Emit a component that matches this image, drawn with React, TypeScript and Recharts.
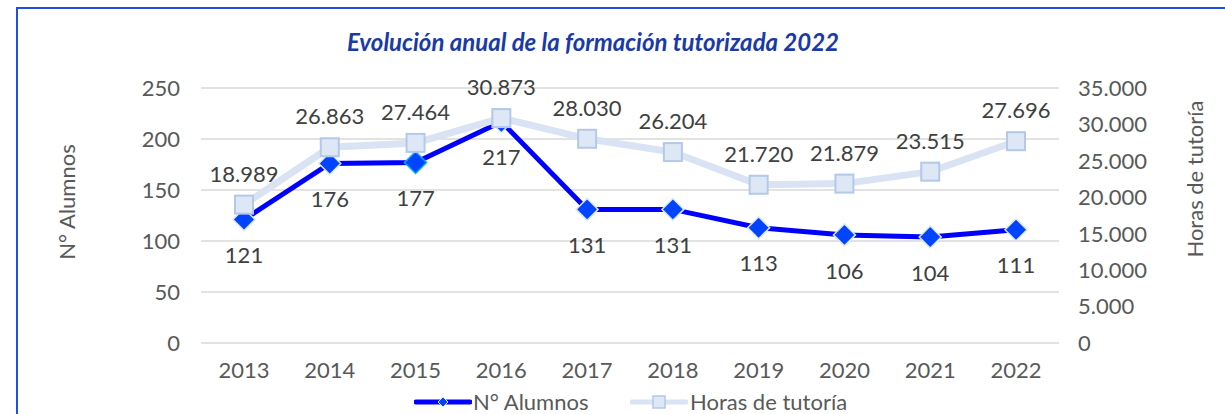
import { LineChart, Line, XAxis, YAxis, CartesianGrid, LabelList } from "recharts";

const years = ["2013", "2014", "2015", "2016", "2017", "2018", "2019", "2020", "2021", "2022"];
const alumnos = [121, 176, 177, 217, 131, 131, 113, 106, 104, 111];
const horas = [18989, 26863, 27464, 30873, 28030, 26204, 21720, 21879, 23515, 27696];
const leftTicks = [0, 50, 100, 150, 200, 250];
const rightTicks = [0, 5000, 10000, 15000, 20000, 25000, 30000, 35000];

const data = years.map((year, i) => ({ year, alumnos: alumnos[i], horas: horas[i] }));

const FONT = "Lato, 'Open Sans', sans-serif";
const FS = 22;
const TICK = "#595959";
const LABEL = "#404040";
const BLUE = "#0000ff";
const DIAMOND = "#0044ff";
const LIGHT = "#dae3f3";
const SQUARE_FILL = "#dde7f5";
const SQUARE_STROKE = "#b4c8e8";

const fmt = (n: number) => String(n).replace(/\B(?=(\d{3})+(?!\d))/g, ".");

function Diamond(props: any) {
    const { cx, cy, index } = props;
    if (cx == null || cy == null) return null;
    const r = 11;
    return (
        <path
            key={`d-${index}`}
            d={`M${cx},${cy - r}L${cx + r},${cy}L${cx},${cy + r}L${cx - r},${cy}Z`}
            fill={DIAMOND}
            stroke={index === 2 ? "#00b0f0" : "#dbe6f7"}
            strokeWidth={1.5}
        />
    );
}

function Square(props: any) {
    const { cx, cy, index } = props;
    if (cx == null || cy == null) return null;
    const s = 9;
    return (
        <rect
            key={`s-${index}`}
            x={cx - s}
            y={cy - s}
            width={s * 2}
            height={s * 2}
            fill={SQUARE_FILL}
            stroke={SQUARE_STROKE}
            strokeWidth={2}
        />
    );
}

function AxisTitle({ x, y, text }: { x: number; y: number; text: string }) {
    return (
        <text
            x={x}
            y={y}
            transform={`rotate(-90, ${x}, ${y})`}
            textAnchor="middle"
            dominantBaseline="central"
            fill={TICK}
            fontSize={FS}
            fontFamily={FONT}
        >
            {text}
        </text>
    );
}

export default function App() {
    return (
        <div style={{ position: "absolute", left: 0, top: 0, width: 1225, height: 414, overflow: "hidden", background: "#fff" }}>
            <div
                style={{
                    position: "absolute",
                    left: 16,
                    top: 7,
                    width: 1230,
                    height: 430,
                    border: "2px solid #1f4fe6",
                    boxSizing: "border-box",
                }}
            />
            <div
                style={{
                    position: "absolute",
                    left: 0,
                    width: 1186,
                    top: 27,
                    textAlign: "center",
                    fontFamily: FONT,
                    fontWeight: 700,
                    fontStyle: "italic",
                    fontSize: 24,
                    color: "#1a3aa6",
                }}
            >
                Evolución anual de la formación tutorizada 2022
            </div>
            <div style={{ position: "absolute", left: 0, top: 0 }}>
                <LineChart
                    width={1225}
                    height={414}
                    data={data}
                    margin={{ top: 88, right: 26, bottom: 31, left: 61 }}
                >
                    <CartesianGrid yAxisId="left" vertical={false} stroke="#d9d9d9" strokeWidth={1.5} />
                    <XAxis
                        dataKey="year"
                        axisLine={false}
                        tickLine={false}
                        tickSize={0}
                        tickMargin={19}
                        height={40}
                        padding={{ left: 43, right: 43 }}
                        tick={{ fill: TICK, fontSize: FS, fontFamily: FONT }}
                    />
                    <YAxis
                        yAxisId="left"
                        domain={[0, 250]}
                        ticks={leftTicks}
                        width={140}
                        axisLine={false}
                        tickLine={false}
                        tickSize={0}
                        tickMargin={21}
                        tick={{ fill: TICK, fontSize: FS, fontFamily: FONT }}
                        label={{
                            content: () => <AxisTitle x={66} y={202} text="N° Alumnos" />,
                        }}
                    />
                    <YAxis
                        yAxisId="right"
                        orientation="right"
                        domain={[0, 35000]}
                        ticks={rightTicks}
                        width={140}
                        axisLine={false}
                        tickLine={false}
                        tickSize={0}
                        tickMargin={19}
                        tickFormatter={fmt}
                        tick={{ fill: TICK, fontSize: FS, fontFamily: FONT }}
                        label={{
                            content: () => <AxisTitle x={1194} y={179} text="Horas de tutoría" />,
                        }}
                    />
                    <Line
                        yAxisId="left"
                        type="linear"
                        dataKey="alumnos"
                        stroke={BLUE}
                        strokeWidth={5}
                        dot={Diamond}
                        activeDot={false}
                        isAnimationActive={false}
                    >
                        <LabelList
                            dataKey="alumnos"
                            position="bottom"
                            offset={28}
                            fill={LABEL}
                            fontSize={FS}
                            fontFamily={FONT}
                        />
                    </Line>
                    <Line
                        yAxisId="right"
                        type="linear"
                        dataKey="horas"
                        stroke={LIGHT}
                        strokeWidth={7}
                        dot={Square}
                        activeDot={false}
                        isAnimationActive={false}
                    >
                        <LabelList
                            dataKey="horas"
                            position="top"
                            offset={23}
                            formatter={(v: any) => fmt(Number(v))}
                            fill={LABEL}
                            fontSize={FS}
                            fontFamily={FONT}
                        />
                    </Line>
                </LineChart>
            </div>
            <div
                style={{
                    position: "absolute",
                    top: 389,
                    left: 0,
                    width: 1225,
                    fontFamily: FONT,
                    fontSize: FS,
                    color: TICK,
                    lineHeight: "26px",
                }}
            >
                <div style={{ position: "absolute", left: 414, display: "flex", alignItems: "center" }}>
                    <svg width={58} height={26}>
                        <line x1={2} y1={13} x2={56} y2={13} stroke={BLUE} strokeWidth={5} strokeLinecap="round" />
                        <path d="M29,8L34,13L29,18L24,13Z" fill={DIAMOND} stroke="#dbe6f7" strokeWidth={1} />
                    </svg>
                    <span style={{ marginLeft: 1 }}>N° Alumnos</span>
                </div>
                <div style={{ position: "absolute", left: 630, display: "flex", alignItems: "center" }}>
                    <svg width={58} height={26}>
                        <line x1={2} y1={13} x2={56} y2={13} stroke={LIGHT} strokeWidth={5} strokeLinecap="round" />
                        <rect x={23} y={7} width={12} height={12} fill={SQUARE_FILL} stroke={SQUARE_STROKE} strokeWidth={1.5} />
                    </svg>
                    <span style={{ marginLeft: 2 }}>Horas de tutoría</span>
                </div>
            </div>
        </div>
    );
}
